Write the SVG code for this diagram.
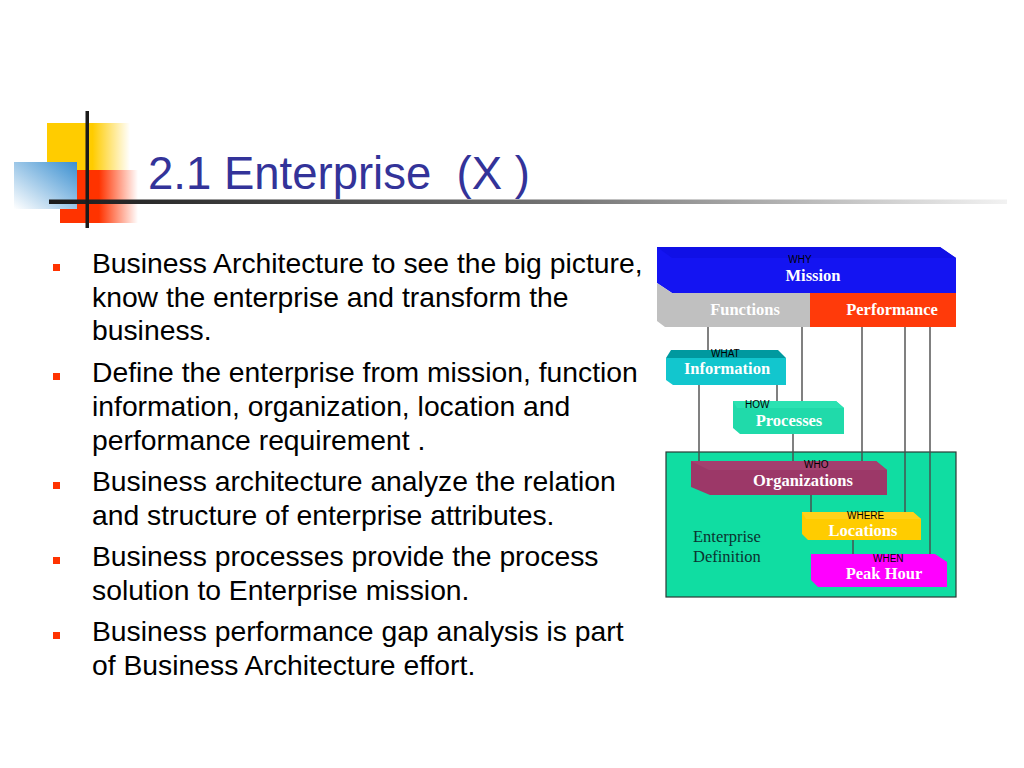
<svg xmlns="http://www.w3.org/2000/svg" width="1024" height="768" viewBox="0 0 1024 768">
<defs>
<linearGradient id="gYel" x1="0" y1="0" x2="1" y2="0">
<stop offset="0" stop-color="#FFCC00"/><stop offset="0.55" stop-color="#FFCC00"/><stop offset="1" stop-color="#FFCC00" stop-opacity="0"/>
</linearGradient>
<linearGradient id="gRed" x1="0" y1="0" x2="1" y2="0">
<stop offset="0" stop-color="#FF3300"/><stop offset="0.5" stop-color="#FF3300"/><stop offset="1" stop-color="#FF3300" stop-opacity="0"/>
</linearGradient>
<linearGradient id="gBlue" x1="1" y1="0" x2="0" y2="1">
<stop offset="0" stop-color="#3A8FD0"/><stop offset="1" stop-color="#FFFFFF"/>
</linearGradient>
<linearGradient id="gLine" x1="0" y1="0" x2="1" y2="0">
<stop offset="0" stop-color="#1a1a1a"/><stop offset="0.55" stop-color="#777777"/><stop offset="1" stop-color="#f2f2f2"/>
</linearGradient>
<style>
.body{font-family:"Liberation Sans",Arial,sans-serif;font-size:28.3px;fill:#000}
.title{font-family:"Liberation Sans",Arial,sans-serif;font-size:45.5px;fill:#333399;white-space:pre}
.bul{fill:#FF3300}
.lbl{font-family:"Liberation Serif","Times New Roman",serif;font-weight:bold;font-size:16.5px;fill:#FFFFFF;text-anchor:middle}
.sm{font-family:"Liberation Sans",Arial,sans-serif;font-size:10px;fill:#000}
.ent{font-family:"Liberation Serif","Times New Roman",serif;font-size:16.5px;fill:#0b3330}
.conn line{stroke:#4a4a4a;stroke-width:1.4}
</style>
</defs>
<rect width="1024" height="768" fill="#FFFFFF"/>

<g id="logo">
<rect x="47" y="123" width="83" height="47" fill="url(#gYel)"/>
<rect x="60" y="170" width="78" height="53" fill="url(#gRed)"/>
<rect x="14" y="162" width="63" height="47" fill="url(#gBlue)"/>
<rect x="49" y="199.5" width="958" height="4.5" fill="url(#gLine)"/>
<rect x="85.5" y="111" width="3.5" height="117" fill="#1a1a1a"/>
</g>

<g id="title">
<text class="title" x="148" y="189" xml:space="preserve">2.1 Enterprise  (X )</text>
</g>

<g id="bullets">
<rect class="bul" x="53" y="264" width="7" height="7"/>
<rect class="bul" x="53" y="373" width="7" height="7"/>
<rect class="bul" x="53" y="482" width="7" height="7"/>
<rect class="bul" x="53" y="557" width="7" height="7"/>
<rect class="bul" x="53" y="632" width="7" height="7"/>
<text class="body" x="92" y="273">Business Architecture to see the big picture,</text>
<text class="body" x="92" y="307">know the enterprise and transform the</text>
<text class="body" x="92" y="340">business.</text>
<text class="body" x="92" y="382">Define the enterprise from mission, function</text>
<text class="body" x="92" y="416">information, organization, location and</text>
<text class="body" x="92" y="450">performance requirement .</text>
<text class="body" x="92" y="491">Business architecture analyze the relation</text>
<text class="body" x="92" y="525">and structure of enterprise attributes.</text>
<text class="body" x="92" y="566">Business processes provide the process</text>
<text class="body" x="92" y="600">solution to Enterprise mission.</text>
<text class="body" x="92" y="641">Business performance gap analysis is part</text>
<text class="body" x="92" y="675">of Business Architecture effort.</text>
</g>

<g id="enterprise-definition">
<rect x="666" y="452" width="290" height="145" fill="#10DDA2" stroke="#2a3a35" stroke-width="1.2"/>
<text class="ent" x="693" y="542">Enterprise</text>
<text class="ent" x="693" y="562">Definition</text>
</g>

<g id="connectors" class="conn">
<line x1="708" y1="327" x2="708" y2="350"/>
<line x1="802" y1="327" x2="802" y2="401"/>
<line x1="862" y1="327" x2="862" y2="461"/>
<line x1="905" y1="327" x2="905" y2="512"/>
<line x1="930" y1="327" x2="930" y2="554"/>
<line x1="699" y1="385" x2="699" y2="461"/>
<line x1="777" y1="385" x2="777" y2="401"/>
<line x1="793" y1="434" x2="793" y2="461"/>
<line x1="811" y1="495" x2="811" y2="512"/>
<line x1="853" y1="540" x2="853" y2="554"/>
</g>

<g id="mission">
<polygon points="657,247 940,247 956,258 956,293 672,293 657,283" fill="#1414F2"/>
<polygon points="657,247 940,247 956,258 672,258" fill="#1010E6"/>
<text class="sm" x="800" y="263" text-anchor="middle" fill="#000033">WHY</text>
<text class="lbl" x="813" y="281">Mission</text>
</g>

<g id="functions">
<polygon points="657,283 672,293 810,293 810,327 665,327 657,321" fill="#C0C0C0"/>
<text class="lbl" x="745" y="315">Functions</text>
</g>

<g id="performance">
<rect x="810" y="293" width="146" height="34" fill="#FF3A0A"/>
<text class="lbl" x="892" y="315">Performance</text>
</g>

<g id="information">
<polygon points="666,358 786,358 786,385 673,385 666,380" fill="#12C6CE"/>
<polygon points="671,350 778,350 786,358 666,358" fill="#00999F"/>
<text class="sm" x="711" y="357">WHAT</text>
<text class="lbl" x="727" y="374">Information</text>
</g>

<g id="processes">
<polygon points="733,401 836,401 844,408 844,434 740,434 733,428" fill="#20DAAA"/>
<polygon points="733,401 836,401 844,408 737,408" fill="#2BE2B2"/>
<text class="sm" x="745" y="408">HOW</text>
<text class="lbl" x="789" y="426">Processes</text>
</g>

<g id="organizations">
<polygon points="691,461 876,461 887,470 887,495 710,495 691,487" fill="#9C3868"/>
<polygon points="691,461 876,461 887,470 709,470" fill="#A4406F"/>
<text class="sm" x="804" y="468">WHO</text>
<text class="lbl" x="803" y="486">Organizations</text>
</g>

<g id="locations">
<polygon points="802,512 913,512 921,519 921,540 808,540 802,534" fill="#FFCC00"/>
<polygon points="802,512 913,512 921,519 806,519" fill="#FFD21A"/>
<text class="sm" x="847" y="519">WHERE</text>
<text class="lbl" x="863" y="536">Locations</text>
</g>

<g id="peak-hour">
<polygon points="811,554 935,554 947,562 947,587 818,587 811,580" fill="#FF00FF"/>
<text class="sm" x="873" y="562" fill="#330033">WHEN</text>
<text class="lbl" x="884" y="579">Peak Hour</text>
</g>
</svg>
